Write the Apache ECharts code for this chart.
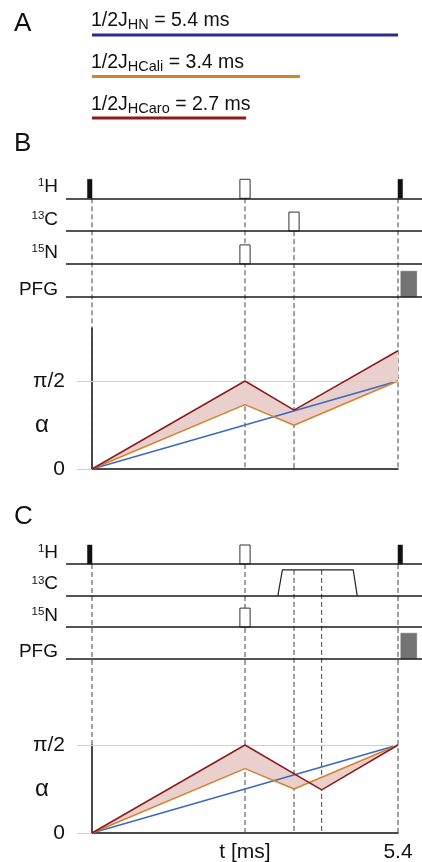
<!DOCTYPE html>
<html>
<head>
<meta charset="utf-8">
<script src="https://cdn.jsdelivr.net/npm/echarts@6/dist/echarts.min.js"></script>
<style>
  html, body { margin: 0; padding: 0; background: #fff; }
  #chart { width: 422px; height: 862px; }
</style>
</head>
<body>
<div id="chart"></div>
<script>
// ---- data ----
// panel A: delays
const couplings = ['HN', 'HCali', 'HCaro'];
const delayText = ['5.4', '3.4', '2.7'];
const delaySpan = [5.4, 3.67, 2.72];   // drawn length of each bar (ms)

// pulse sequence (times in ms)
const channels = [['1', 'H'], ['13', 'C'], ['15', 'N'], ['', 'PFG']];
const hardH = [-0.08, 5.4];                 // 90° 1H pulse start times
const softB = [[0, 2.7], [1, 3.565], [2, 2.7]];   // [channel, centre] of 180° pulses
const softC = [[0, 2.7], [2, 2.7]];
const gradStart = 5.45;
const adiabC = [[3.28, 0], [3.36, 1], [4.61, 1], [4.68, 0]];  // [t, amplitude]
const marksB = [[0, 0], [2.7, 0], [3.565, 1], [5.4, 0]];      // [t, start channel]
const marksC = [[0, 0], [2.7, 0], [3.565, 'ad'], [4.053, 'ad'], [5.4, 0]];

// alpha evolution (units of pi/2)
const tHN = [0, 5.4];
const hn = [0, 1];
const tB = [0, 2.7, 3.565, 5.4];
const caroB = [0, 1.0, 0.67, 1.344];
const caliB = [0, 0.731, 0.497, 1.0];
const tCaroC = [0, 2.7, 4.053, 5.4];
const caroC = [0, 1.0, 0.489, 1.0];
const tCaliC = [0, 2.7, 3.565, 5.4];
const caliC = [0, 0.731, 0.5, 1.0];

// ---- layout / style ----
const FONT = '"Liberation Sans", Arial, Helvetica, sans-serif';
const NAVY = '#2e2b8f', ORANGE = '#d5822f', RED = '#8c1c1c', BLUE = '#3b68c0', FILL = '#ead0cd';
const K = 306 / 5.4;                       // px per ms
const tMinWide = (66 - 92) / K, tMaxWide = 5.4 + (422 - 398) / K;
const UNIT = 88;                           // px per pi/2
const LB = { row0: 198.3, gap: 32.8, zero: 469, top: 1.6 };
const LC = { row0: 564, gap: 31.57, zero: 833, top: 1.0 };
const D90 = 0.08, D180 = 0.18, DPFG = 0.28;
const PULSE_PX = 19, GRAD_PX = 25.5, ADIAB_PX = 25.7;

const chart = echarts.init(document.getElementById('chart'), null, { renderer: 'canvas' });

const grid = [], xAxis = [], yAxis = [], series = [], graphic = [];

// #region Panel A
grid.push({ left: 92, width: 306, top: 14.25, height: 124.5, outerBoundsMode: 'none' });
xAxis.push({ gridIndex: 0, type: 'value', min: 0, max: 5.4, show: false });
yAxis.push({ gridIndex: 0, type: 'category', data: couplings, inverse: true, show: false });
[NAVY, ORANGE, RED].forEach((c, i) => {
    series.push({
        type: 'line', xAxisIndex: 0, yAxisIndex: 0, silent: true, symbol: 'none',
        data: [[0, couplings[i]], [delaySpan[i], couplings[i]]],
        lineStyle: { color: c, width: 3 }
    });
});
const labelAY = [10.5, 52.5, 94.5];
couplings.forEach((c, i) => {
    graphic.push({
        type: 'text', x: 91, y: labelAY[i], silent: true,
        style: {
            text: `{m|1/2J}{s|${c}}{m| = ${delayText[i]} ms}`,
            align: 'left', verticalAlign: 'top',
            rich: {
                m: { fontSize: 19.5, fontFamily: FONT, lineHeight: 22, verticalAlign: 'top', fill: '#111' },
                s: { fontSize: 14.5, fontFamily: FONT, lineHeight: 14, verticalAlign: 'bottom', fill: '#111' }
            }
        }
    });
});
// #endregion

// #region Panels B and C
function panel(L, soft, marks, withAdiab, isC) {
    const gi = grid.length;
    const seqTop = L.row0 - 0.8 * L.gap;
    const yMax = (L.zero - L.row0) / L.gap;
    const ph = PULSE_PX / L.gap;

    // sequence grid
    grid.push({ left: 66, width: 356, top: seqTop, height: L.zero - seqTop, outerBoundsMode: 'none' });
    xAxis.push({ gridIndex: gi, type: 'value', min: tMinWide, max: tMaxWide, show: false });
    yAxis.push({ gridIndex: gi, type: 'value', min: -0.8, max: yMax, inverse: true, show: false });

    // alpha grid
    grid.push({ left: 92, width: 306, top: L.zero - L.top * UNIT, height: L.top * UNIT, outerBoundsMode: 'none' });
    xAxis.push({
        gridIndex: gi + 1, type: 'value', min: 0, max: 5.4,
        axisLine: { show: true, onZero: false, lineStyle: { color: '#111', width: 1.5 } },
        axisTick: { show: false }, splitLine: { show: false },
        axisLabel: { show: isC, customValues: [5.4], formatter: () => '5.4', fontSize: 21, fontFamily: FONT, color: '#111', margin: 9 },
        name: isC ? 't [ms]' : '', nameLocation: 'middle', nameGap: 9, nameMoveOverlap: false,
        nameTextStyle: { fontSize: 21, fontFamily: FONT, color: '#111', verticalAlign: 'top' }
    });
    yAxis.push({
        gridIndex: gi + 1, type: 'value', min: 0, max: L.top,
        axisLine: { show: true, onZero: false, lineStyle: { color: '#111', width: 1.5 } },
        axisTick: { show: true, customValues: [0, 1], length: 15, lineStyle: { color: '#cfcfcf', width: 1 } },
        axisLabel: { customValues: [0, 1], formatter: v => v === 0 ? '0' : 'π/2', fontSize: 21, fontFamily: FONT, color: '#111', margin: 27 },
        splitLine: { show: false }
    });

    // dashed time markers
    const adTop = 1 - ADIAB_PX / L.gap;
    marks.forEach(([t, ch], i) => {
        const s = ch === 'ad' ? adTop : ch;
        series.push({
            type: 'line', xAxisIndex: gi, yAxisIndex: gi, silent: true, symbol: 'none', z: 1,
            data: [[t, s], [t, yMax]],
            lineStyle: { color: '#444', width: 1, type: [5, 3] },
            markLine: i === 0 ? {
                silent: true, symbol: ['none', 'none'], label: { show: false },
                lineStyle: { color: '#1a1a1a', width: 1.6, type: 'solid' },
                data: channels.map((c, r) => ({ yAxis: r }))
            } : undefined
        });
    });

    // pulses: [t0, t1, row, height, kind]
    const items = [];
    hardH.forEach(t => items.push([t, t + D90, 0, ph, 0]));
    soft.forEach(([ch, t]) => items.push([t - D180 / 2, t + D180 / 2, ch, ph, 1]));
    items.push([gradStart, gradStart + DPFG, 3, GRAD_PX / L.gap, 2]);
    const kindStyle = [
        { fill: '#111', stroke: '#111', lineWidth: 0.5 },
        { fill: '#fff', stroke: '#333', lineWidth: 1 },
        { fill: '#737373', stroke: '#6a6a6a', lineWidth: 0.5 }
    ];
    series.push({
        type: 'custom', xAxisIndex: gi, yAxisIndex: gi, silent: true, z: 3,
        encode: { x: [0, 1], y: 2 },
        data: items,
        renderItem: (params, api) => {
            const p0 = api.coord([api.value(0), api.value(2)]);
            const p1 = api.coord([api.value(1), api.value(2) - api.value(3)]);
            return {
                type: 'rect',
                shape: { x: p0[0], y: p1[1], width: p1[0] - p0[0], height: p0[1] - p1[1] },
                style: kindStyle[api.value(4)]
            };
        }
    });
    if (withAdiab) {
        series.push({
            type: 'line', xAxisIndex: gi, yAxisIndex: gi, silent: true, symbol: 'none', z: 3,
            data: adiabC.map(([t, a]) => [t, 1 - a * ADIAB_PX / L.gap]),
            lineStyle: { color: '#222', width: 1.2 }
        });
    }

    // channel labels
    channels.forEach(([sup, main], r) => {
        const y = L.row0 + r * L.gap + (r === 3 ? 4 : -1);
        graphic.push({
            type: 'text', x: 58, y: y, silent: true,
            style: {
                text: (sup ? `{u|${sup}}` : '') + `{m|${main}}`,
                align: 'right', verticalAlign: 'bottom',
                rich: {
                    u: { fontSize: 11.5, fontFamily: FONT, lineHeight: 12, verticalAlign: 'top', fill: '#111' },
                    m: { fontSize: 19, fontFamily: FONT, lineHeight: 20, verticalAlign: 'top', fill: '#111' }
                }
            }
        });
    });
    graphic.push({
        type: 'text', x: 42, y: L.zero - 0.5 * UNIT, silent: true,
        style: { text: 'α', fontSize: 24, fontFamily: FONT, fill: '#111', align: 'center', verticalAlign: 'middle' }
    });
    return gi + 1;
}

function alphaSeries(ai, tCaro, caro, tCali, cali) {
    series.push({
        type: 'custom', xAxisIndex: ai, yAxisIndex: ai, silent: true, z: 2,
        data: [[0, 0]],
        renderItem: (params, api) => {
            const pts = caro.map((v, i) => api.coord([tCaro[i], v]))
                .concat(cali.map((v, i) => api.coord([tCali[i], v])).reverse());
            return { type: 'polygon', shape: { points: pts }, style: { fill: FILL } };
        }
    });
    series.push({
        type: 'line', xAxisIndex: ai, yAxisIndex: ai, silent: true, symbol: 'none', z: 4,
        data: tHN.map((t, i) => [t, hn[i]]),
        lineStyle: { color: BLUE, width: 1.5 },
        markLine: {
            silent: true, symbol: ['none', 'none'], label: { show: false },
            lineStyle: { color: '#d0d0d0', width: 1, type: 'solid' },
            data: [{ yAxis: 1 }]
        }
    });
    series.push({
        type: 'line', xAxisIndex: ai, yAxisIndex: ai, silent: true, symbol: 'none', z: 4,
        data: tCali.map((t, i) => [t, cali[i]]),
        lineStyle: { color: ORANGE, width: 1.5 }
    });
    series.push({
        type: 'line', xAxisIndex: ai, yAxisIndex: ai, silent: true, symbol: 'none', z: 5,
        data: tCaro.map((t, i) => [t, caro[i]]),
        lineStyle: { color: RED, width: 1.5 }
    });
}

const aB = panel(LB, softB, marksB, false, false);
alphaSeries(aB, tB, caroB, tB, caliB);
const aC = panel(LC, softC, marksC, true, true);
alphaSeries(aC, tCaroC, caroC, tCaliC, caliC);
// #endregion

// panel letters
[['A', 24], ['B', 144], ['C', 517]].forEach(([t, y]) => {
    graphic.push({
        type: 'text', x: 14, y: y, silent: true,
        style: { text: t, fontSize: 26, fontFamily: FONT, fill: '#111', align: 'left', verticalAlign: 'middle' }
    });
});

chart.setOption({
    animation: false,
    backgroundColor: '#fff',
    grid, xAxis, yAxis, series, graphic
});
</script>
</body>
</html>
